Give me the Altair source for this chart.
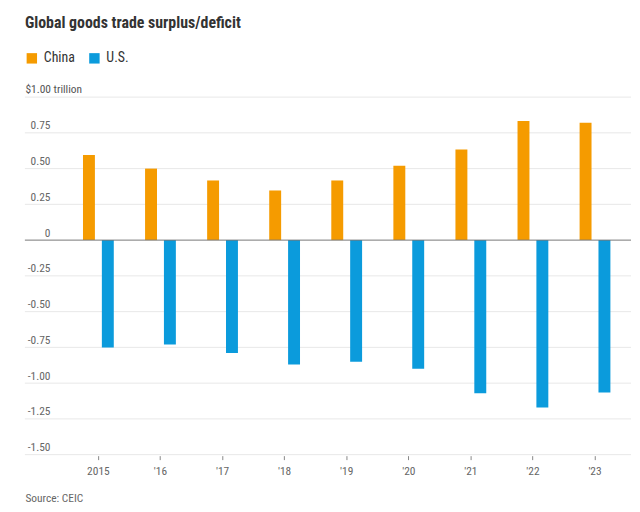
import altair as alt
import pandas as pd

years = ["2015", "'16", "'17", "'18", "'19", "'20", "'21", "'22", "'23"]
china = [0.595, 0.50, 0.417, 0.347, 0.417, 0.52, 0.634, 0.833, 0.82]
us = [-0.75, -0.73, -0.79, -0.87, -0.85, -0.90, -1.07, -1.17, -1.065]
series = ["China", "U.S."]
colors = ["#F59B00", "#0B9BDC"]
grid_vals = [1.0, 0.75, 0.5, 0.25, -0.25, -0.5, -0.75, -1.0, -1.25, -1.5]
tick_vals = [1.0, 0.75, 0.5, 0.25, 0, -0.25, -0.5, -0.75, -1.0, -1.25, -1.5]

FONT = "Liberation Sans Narrow, Roboto Condensed, Roboto, sans-serif"
W = 562.5
H = 360
LEFT = 59.75

rows = []
for i, y in enumerate(years):
    rows.append({"year": y, "series": "China", "value": china[i]})
    rows.append({"year": y, "series": "U.S.", "value": us[i]})
df = pd.DataFrame(rows)
grid_df = pd.DataFrame({"v": grid_vals})
zero_df = pd.DataFrame({"v": [0.0]})

yscale = alt.Scale(domain=[-1.5, 1.0], nice=False)


def yaxis():
    return alt.Axis(
        values=tick_vals,
        grid=False,
        domain=False,
        ticks=False,
        labelOverlap=False,
        labelPadding=17.5,
        labelBaseline="bottom",
        labelOffset=-2,
        labelFont=FONT,
        labelFontSize=11.5,
        labelColor="#666",
        labelExpr="datum.value == 1 ? '' : (datum.value == 0 ? '0' : (datum.value < 0 ? '-' : '') + format(abs(datum.value), '.2f'))",
        title="$1.00 trillion",
        titleAngle=0,
        titleAlign="left",
        titleBaseline="bottom",
        titleX=-42.75,
        titleY=-3,
        titleFont=FONT,
        titleFontSize=11.5,
        titleFontWeight="normal",
        titleColor="#555",
    )


grid = alt.Chart(grid_df).mark_rule(color="#e8e8e8", strokeWidth=1).encode(
    y=alt.Y("v:Q", scale=yscale, axis=yaxis()),
    x=alt.value(-42.75),
    x2=alt.value(W + 5),
)

bars = alt.Chart(df).mark_bar().encode(
    x=alt.X(
        "year:N",
        sort=years,
        scale=alt.Scale(paddingInner=0.392, paddingOuter=0.196),
        axis=alt.Axis(
            title="Source: CEIC",
            titleAnchor="start",
            titleAlign="left",
            titleX=-42.75,
            titleY=46,
            titleFont=FONT,
            titleFontSize=11.5,
            titleFontWeight="normal",
            titleColor="#666",
            titleBaseline="alphabetic",
            labelAngle=0,
            labelFont=FONT,
            labelFontSize=11.5,
            labelColor="#666",
            labelPadding=6,
            labelOverlap=False,
            domain=False,
            ticks=True,
            tickColor="#888",
            tickSize=4,
            bandPosition=0.5,
            offset=1,
        ),
    ),
    xOffset=alt.XOffset(
        "series:N",
        sort=series,
        scale=alt.Scale(paddingInner=0.368, paddingOuter=0.184),
    ),
    y=alt.Y("value:Q", scale=yscale, axis=yaxis()),
    color=alt.Color(
        "series:N",
        scale=alt.Scale(domain=series, range=colors),
        legend=alt.Legend(
            title=None,
            orient="none",
            legendX=-42.75,
            legendY=-46,
            direction="horizontal",
            symbolType="square",
            symbolSize=110,
            symbolStrokeWidth=0,
            labelFont=FONT,
            labelFontSize=14,
            labelColor="#333",
            labelOffset=5,
            columnPadding=12,
        ),
    ),
)

zero = alt.Chart(zero_df).mark_rule(color="#777", strokeWidth=1).encode(
    y=alt.Y("v:Q", scale=yscale, axis=yaxis()),
    x=alt.value(-42.75),
    x2=alt.value(W + 5),
)

chart = alt.layer(grid, bars, zero).properties(
    width=W,
    height=H,
    autosize=alt.AutoSizeParams(type="none"),
    padding={"left": LEFT, "top": 88, "right": 6, "bottom": 50},
    title=alt.TitleParams(
        text="Global goods trade surplus/deficit",
        anchor="start",
        frame="group",
        dx=-42.75,
        offset=21,
        font=FONT,
        fontSize=16,
        fontWeight="bold",
        color="#333",
    ),
).configure_view(stroke=None)

chart.save("out.html", embed_options={"renderer": "svg", "actions": False})
